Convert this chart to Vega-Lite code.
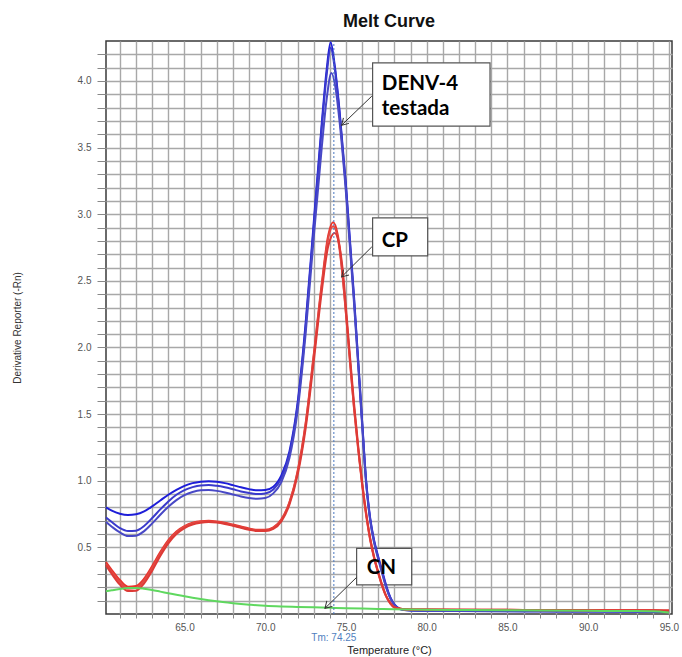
{
  "$schema": "https://vega.github.io/schema/vega-lite/v6.json",
  "autosize": {"type": "none"},
  "width": 566,
  "height": 573,
  "padding": {"left": 106, "top": 41, "right": 10, "bottom": 43},
  "background": "white",
  "title": {"text": "Melt Curve", "font": "Liberation Sans", "fontSize": 18, "fontWeight": "bold", "color": "#111", "frame": "group", "anchor": "middle", "offset": 7},
  "config": {
    "view": {"stroke": "#3a3a3a", "strokeWidth": 1.5},
    "axis": {"labelFont": "Liberation Sans", "titleFont": "Liberation Sans"}
  },
  "datasets": {
    "curves": [
      {"r": "B1", "T": 60.14, "v": 0.8}, {"r": "B1", "T": 60.5, "v": 0.775}, {"r": "B1", "T": 61.0, "v": 0.752}, {"r": "B1", "T": 61.5, "v": 0.742}, {"r": "B1", "T": 62.0, "v": 0.748}, {"r": "B1", "T": 62.5, "v": 0.77}, {"r": "B1", "T": 63.0, "v": 0.808}, {"r": "B1", "T": 63.5, "v": 0.852}, {"r": "B1", "T": 64.0, "v": 0.895}, {"r": "B1", "T": 64.5, "v": 0.932}, {"r": "B1", "T": 65.0, "v": 0.962}, {"r": "B1", "T": 65.5, "v": 0.982}, {"r": "B1", "T": 66.0, "v": 0.993}, {"r": "B1", "T": 66.5, "v": 0.997}, {"r": "B1", "T": 67.0, "v": 0.993}, {"r": "B1", "T": 67.5, "v": 0.982}, {"r": "B1", "T": 68.0, "v": 0.967}, {"r": "B1", "T": 68.5, "v": 0.951}, {"r": "B1", "T": 69.0, "v": 0.937}, {"r": "B1", "T": 69.5, "v": 0.928}, {"r": "B1", "T": 70.0, "v": 0.93}, {"r": "B1", "T": 70.5, "v": 0.955}, {"r": "B1", "T": 71.0, "v": 1.04}, {"r": "B1", "T": 71.5, "v": 1.22}, {"r": "B1", "T": 72.0, "v": 1.58}, {"r": "B1", "T": 72.5, "v": 2.18}, {"r": "B1", "T": 73.0, "v": 2.93}, {"r": "B1", "T": 73.5, "v": 3.68}, {"r": "B1", "T": 73.8, "v": 4.08}, {"r": "B1", "T": 74.05, "v": 4.29}, {"r": "B1", "T": 74.3, "v": 4.12}, {"r": "B1", "T": 74.6, "v": 3.78}, {"r": "B1", "T": 75.0, "v": 3.22}, {"r": "B1", "T": 75.5, "v": 2.38}, {"r": "B1", "T": 76.0, "v": 1.45}, {"r": "B1", "T": 76.25, "v": 1.0}, {"r": "B1", "T": 76.5, "v": 0.72}, {"r": "B1", "T": 76.75, "v": 0.55}, {"r": "B1", "T": 77.0, "v": 0.43}, {"r": "B1", "T": 77.25, "v": 0.32}, {"r": "B1", "T": 77.5, "v": 0.21}, {"r": "B1", "T": 77.75, "v": 0.125}, {"r": "B1", "T": 78.0, "v": 0.072}, {"r": "B1", "T": 78.25, "v": 0.045}, {"r": "B1", "T": 78.5, "v": 0.034}, {"r": "B1", "T": 79.0, "v": 0.028}, {"r": "B1", "T": 80.0, "v": 0.025}, {"r": "B1", "T": 82.0, "v": 0.024}, {"r": "B1", "T": 85.0, "v": 0.022}, {"r": "B1", "T": 87.0, "v": 0.021}, {"r": "B1", "T": 90.0, "v": 0.02}, {"r": "B1", "T": 95.0, "v": 0.018},

      {"r": "B2", "T": 60.14, "v": 0.725}, {"r": "B2", "T": 60.5, "v": 0.69}, {"r": "B2", "T": 61.0, "v": 0.645}, {"r": "B2", "T": 61.5, "v": 0.622}, {"r": "B2", "T": 62.0, "v": 0.625}, {"r": "B2", "T": 62.5, "v": 0.66}, {"r": "B2", "T": 63.0, "v": 0.72}, {"r": "B2", "T": 63.5, "v": 0.785}, {"r": "B2", "T": 64.0, "v": 0.845}, {"r": "B2", "T": 64.5, "v": 0.895}, {"r": "B2", "T": 65.0, "v": 0.93}, {"r": "B2", "T": 65.5, "v": 0.952}, {"r": "B2", "T": 66.0, "v": 0.965}, {"r": "B2", "T": 66.5, "v": 0.968}, {"r": "B2", "T": 67.0, "v": 0.962}, {"r": "B2", "T": 67.5, "v": 0.951}, {"r": "B2", "T": 68.0, "v": 0.936}, {"r": "B2", "T": 68.5, "v": 0.92}, {"r": "B2", "T": 69.0, "v": 0.908}, {"r": "B2", "T": 69.5, "v": 0.9}, {"r": "B2", "T": 70.0, "v": 0.905}, {"r": "B2", "T": 70.5, "v": 0.935}, {"r": "B2", "T": 71.0, "v": 1.02}, {"r": "B2", "T": 71.5, "v": 1.2}, {"r": "B2", "T": 72.0, "v": 1.56}, {"r": "B2", "T": 72.5, "v": 2.15}, {"r": "B2", "T": 73.0, "v": 2.9}, {"r": "B2", "T": 73.5, "v": 3.65}, {"r": "B2", "T": 73.8, "v": 4.04}, {"r": "B2", "T": 74.05, "v": 4.25}, {"r": "B2", "T": 74.3, "v": 4.1}, {"r": "B2", "T": 74.6, "v": 3.76}, {"r": "B2", "T": 75.0, "v": 3.2}, {"r": "B2", "T": 75.5, "v": 2.36}, {"r": "B2", "T": 76.0, "v": 1.44}, {"r": "B2", "T": 76.25, "v": 0.99}, {"r": "B2", "T": 76.5, "v": 0.71}, {"r": "B2", "T": 76.75, "v": 0.54}, {"r": "B2", "T": 77.0, "v": 0.42}, {"r": "B2", "T": 77.25, "v": 0.31}, {"r": "B2", "T": 77.5, "v": 0.2}, {"r": "B2", "T": 77.75, "v": 0.12}, {"r": "B2", "T": 78.0, "v": 0.07}, {"r": "B2", "T": 78.25, "v": 0.044}, {"r": "B2", "T": 78.5, "v": 0.033}, {"r": "B2", "T": 79.0, "v": 0.027}, {"r": "B2", "T": 80.0, "v": 0.024}, {"r": "B2", "T": 82.0, "v": 0.023}, {"r": "B2", "T": 85.0, "v": 0.021}, {"r": "B2", "T": 87.0, "v": 0.02}, {"r": "B2", "T": 90.0, "v": 0.019}, {"r": "B2", "T": 95.0, "v": 0.017},

      {"r": "B3", "T": 60.14, "v": 0.69}, {"r": "B3", "T": 60.5, "v": 0.655}, {"r": "B3", "T": 61.0, "v": 0.612}, {"r": "B3", "T": 61.5, "v": 0.585}, {"r": "B3", "T": 62.0, "v": 0.588}, {"r": "B3", "T": 62.5, "v": 0.622}, {"r": "B3", "T": 63.0, "v": 0.68}, {"r": "B3", "T": 63.5, "v": 0.745}, {"r": "B3", "T": 64.0, "v": 0.805}, {"r": "B3", "T": 64.5, "v": 0.855}, {"r": "B3", "T": 65.0, "v": 0.892}, {"r": "B3", "T": 65.5, "v": 0.915}, {"r": "B3", "T": 66.0, "v": 0.928}, {"r": "B3", "T": 66.5, "v": 0.93}, {"r": "B3", "T": 67.0, "v": 0.924}, {"r": "B3", "T": 67.5, "v": 0.912}, {"r": "B3", "T": 68.0, "v": 0.897}, {"r": "B3", "T": 68.5, "v": 0.882}, {"r": "B3", "T": 69.0, "v": 0.87}, {"r": "B3", "T": 69.5, "v": 0.864}, {"r": "B3", "T": 70.0, "v": 0.87}, {"r": "B3", "T": 70.5, "v": 0.905}, {"r": "B3", "T": 71.0, "v": 0.99}, {"r": "B3", "T": 71.5, "v": 1.17}, {"r": "B3", "T": 72.0, "v": 1.52}, {"r": "B3", "T": 72.5, "v": 2.1}, {"r": "B3", "T": 73.0, "v": 2.82}, {"r": "B3", "T": 73.5, "v": 3.5}, {"r": "B3", "T": 73.8, "v": 3.86}, {"r": "B3", "T": 74.1, "v": 4.06}, {"r": "B3", "T": 74.35, "v": 3.95}, {"r": "B3", "T": 74.6, "v": 3.7}, {"r": "B3", "T": 75.0, "v": 3.16}, {"r": "B3", "T": 75.5, "v": 2.33}, {"r": "B3", "T": 76.0, "v": 1.42}, {"r": "B3", "T": 76.25, "v": 0.98}, {"r": "B3", "T": 76.5, "v": 0.7}, {"r": "B3", "T": 76.75, "v": 0.53}, {"r": "B3", "T": 77.0, "v": 0.41}, {"r": "B3", "T": 77.25, "v": 0.3}, {"r": "B3", "T": 77.5, "v": 0.195}, {"r": "B3", "T": 77.75, "v": 0.115}, {"r": "B3", "T": 78.0, "v": 0.068}, {"r": "B3", "T": 78.25, "v": 0.043}, {"r": "B3", "T": 78.5, "v": 0.032}, {"r": "B3", "T": 79.0, "v": 0.026}, {"r": "B3", "T": 80.0, "v": 0.023}, {"r": "B3", "T": 82.0, "v": 0.022}, {"r": "B3", "T": 85.0, "v": 0.021}, {"r": "B3", "T": 87.0, "v": 0.02}, {"r": "B3", "T": 90.0, "v": 0.019}, {"r": "B3", "T": 95.0, "v": 0.017},

      {"r": "R1", "T": 60.14, "v": 0.39}, {"r": "R1", "T": 60.5, "v": 0.33}, {"r": "R1", "T": 61.0, "v": 0.255}, {"r": "R1", "T": 61.5, "v": 0.205}, {"r": "R1", "T": 62.0, "v": 0.21}, {"r": "R1", "T": 62.5, "v": 0.265}, {"r": "R1", "T": 63.0, "v": 0.36}, {"r": "R1", "T": 63.5, "v": 0.465}, {"r": "R1", "T": 64.0, "v": 0.555}, {"r": "R1", "T": 64.5, "v": 0.62}, {"r": "R1", "T": 65.0, "v": 0.66}, {"r": "R1", "T": 65.5, "v": 0.685}, {"r": "R1", "T": 66.0, "v": 0.697}, {"r": "R1", "T": 66.5, "v": 0.7}, {"r": "R1", "T": 67.0, "v": 0.695}, {"r": "R1", "T": 67.5, "v": 0.685}, {"r": "R1", "T": 68.0, "v": 0.671}, {"r": "R1", "T": 68.5, "v": 0.656}, {"r": "R1", "T": 69.0, "v": 0.642}, {"r": "R1", "T": 69.5, "v": 0.632}, {"r": "R1", "T": 70.0, "v": 0.632}, {"r": "R1", "T": 70.5, "v": 0.65}, {"r": "R1", "T": 71.0, "v": 0.71}, {"r": "R1", "T": 71.5, "v": 0.84}, {"r": "R1", "T": 72.0, "v": 1.07}, {"r": "R1", "T": 72.5, "v": 1.43}, {"r": "R1", "T": 73.0, "v": 1.94}, {"r": "R1", "T": 73.5, "v": 2.48}, {"r": "R1", "T": 73.9, "v": 2.84}, {"r": "R1", "T": 74.2, "v": 2.94}, {"r": "R1", "T": 74.5, "v": 2.84}, {"r": "R1", "T": 74.75, "v": 2.6}, {"r": "R1", "T": 75.0, "v": 2.26}, {"r": "R1", "T": 75.25, "v": 1.9}, {"r": "R1", "T": 75.5, "v": 1.55}, {"r": "R1", "T": 75.75, "v": 1.25}, {"r": "R1", "T": 76.0, "v": 0.98}, {"r": "R1", "T": 76.25, "v": 0.75}, {"r": "R1", "T": 76.5, "v": 0.56}, {"r": "R1", "T": 76.75, "v": 0.42}, {"r": "R1", "T": 77.0, "v": 0.31}, {"r": "R1", "T": 77.25, "v": 0.21}, {"r": "R1", "T": 77.5, "v": 0.13}, {"r": "R1", "T": 77.75, "v": 0.08}, {"r": "R1", "T": 78.0, "v": 0.05}, {"r": "R1", "T": 78.5, "v": 0.037}, {"r": "R1", "T": 79.0, "v": 0.034}, {"r": "R1", "T": 80.0, "v": 0.033}, {"r": "R1", "T": 82.0, "v": 0.032}, {"r": "R1", "T": 85.0, "v": 0.031}, {"r": "R1", "T": 87.0, "v": 0.03}, {"r": "R1", "T": 90.0, "v": 0.029}, {"r": "R1", "T": 94.0, "v": 0.028}, {"r": "R1", "T": 95.0, "v": 0.026},

      {"r": "R2", "T": 60.14, "v": 0.375}, {"r": "R2", "T": 60.5, "v": 0.315}, {"r": "R2", "T": 61.0, "v": 0.24}, {"r": "R2", "T": 61.5, "v": 0.19}, {"r": "R2", "T": 62.0, "v": 0.195}, {"r": "R2", "T": 62.5, "v": 0.25}, {"r": "R2", "T": 63.0, "v": 0.345}, {"r": "R2", "T": 63.5, "v": 0.452}, {"r": "R2", "T": 64.0, "v": 0.545}, {"r": "R2", "T": 64.5, "v": 0.612}, {"r": "R2", "T": 65.0, "v": 0.655}, {"r": "R2", "T": 65.5, "v": 0.68}, {"r": "R2", "T": 66.0, "v": 0.692}, {"r": "R2", "T": 66.5, "v": 0.695}, {"r": "R2", "T": 67.0, "v": 0.69}, {"r": "R2", "T": 67.5, "v": 0.68}, {"r": "R2", "T": 68.0, "v": 0.666}, {"r": "R2", "T": 68.5, "v": 0.651}, {"r": "R2", "T": 69.0, "v": 0.637}, {"r": "R2", "T": 69.5, "v": 0.627}, {"r": "R2", "T": 70.0, "v": 0.627}, {"r": "R2", "T": 70.5, "v": 0.645}, {"r": "R2", "T": 71.0, "v": 0.705}, {"r": "R2", "T": 71.5, "v": 0.835}, {"r": "R2", "T": 72.0, "v": 1.06}, {"r": "R2", "T": 72.5, "v": 1.42}, {"r": "R2", "T": 73.0, "v": 1.93}, {"r": "R2", "T": 73.5, "v": 2.46}, {"r": "R2", "T": 73.9, "v": 2.82}, {"r": "R2", "T": 74.2, "v": 2.91}, {"r": "R2", "T": 74.5, "v": 2.82}, {"r": "R2", "T": 74.75, "v": 2.58}, {"r": "R2", "T": 75.0, "v": 2.25}, {"r": "R2", "T": 75.25, "v": 1.89}, {"r": "R2", "T": 75.5, "v": 1.54}, {"r": "R2", "T": 75.75, "v": 1.24}, {"r": "R2", "T": 76.0, "v": 0.97}, {"r": "R2", "T": 76.25, "v": 0.74}, {"r": "R2", "T": 76.5, "v": 0.555}, {"r": "R2", "T": 76.75, "v": 0.415}, {"r": "R2", "T": 77.0, "v": 0.305}, {"r": "R2", "T": 77.25, "v": 0.205}, {"r": "R2", "T": 77.5, "v": 0.128}, {"r": "R2", "T": 77.75, "v": 0.078}, {"r": "R2", "T": 78.0, "v": 0.049}, {"r": "R2", "T": 78.5, "v": 0.036}, {"r": "R2", "T": 79.0, "v": 0.033}, {"r": "R2", "T": 80.0, "v": 0.032}, {"r": "R2", "T": 82.0, "v": 0.031}, {"r": "R2", "T": 85.0, "v": 0.03}, {"r": "R2", "T": 87.0, "v": 0.029}, {"r": "R2", "T": 90.0, "v": 0.028}, {"r": "R2", "T": 94.0, "v": 0.027}, {"r": "R2", "T": 95.0, "v": 0.025},

      {"r": "R3", "T": 60.14, "v": 0.365}, {"r": "R3", "T": 60.5, "v": 0.3}, {"r": "R3", "T": 61.0, "v": 0.22}, {"r": "R3", "T": 61.5, "v": 0.172}, {"r": "R3", "T": 62.0, "v": 0.175}, {"r": "R3", "T": 62.5, "v": 0.23}, {"r": "R3", "T": 63.0, "v": 0.325}, {"r": "R3", "T": 63.5, "v": 0.435}, {"r": "R3", "T": 64.0, "v": 0.53}, {"r": "R3", "T": 64.5, "v": 0.6}, {"r": "R3", "T": 65.0, "v": 0.645}, {"r": "R3", "T": 65.5, "v": 0.672}, {"r": "R3", "T": 66.0, "v": 0.685}, {"r": "R3", "T": 66.5, "v": 0.69}, {"r": "R3", "T": 67.0, "v": 0.686}, {"r": "R3", "T": 67.5, "v": 0.676}, {"r": "R3", "T": 68.0, "v": 0.662}, {"r": "R3", "T": 68.5, "v": 0.647}, {"r": "R3", "T": 69.0, "v": 0.633}, {"r": "R3", "T": 69.5, "v": 0.623}, {"r": "R3", "T": 70.0, "v": 0.622}, {"r": "R3", "T": 70.5, "v": 0.638}, {"r": "R3", "T": 71.0, "v": 0.695}, {"r": "R3", "T": 71.5, "v": 0.82}, {"r": "R3", "T": 72.0, "v": 1.04}, {"r": "R3", "T": 72.5, "v": 1.39}, {"r": "R3", "T": 73.0, "v": 1.89}, {"r": "R3", "T": 73.5, "v": 2.42}, {"r": "R3", "T": 73.9, "v": 2.76}, {"r": "R3", "T": 74.3, "v": 2.86}, {"r": "R3", "T": 74.6, "v": 2.76}, {"r": "R3", "T": 74.85, "v": 2.52}, {"r": "R3", "T": 75.0, "v": 2.3}, {"r": "R3", "T": 75.25, "v": 1.93}, {"r": "R3", "T": 75.5, "v": 1.58}, {"r": "R3", "T": 75.75, "v": 1.27}, {"r": "R3", "T": 76.0, "v": 0.99}, {"r": "R3", "T": 76.25, "v": 0.76}, {"r": "R3", "T": 76.5, "v": 0.57}, {"r": "R3", "T": 76.75, "v": 0.425}, {"r": "R3", "T": 77.0, "v": 0.315}, {"r": "R3", "T": 77.25, "v": 0.215}, {"r": "R3", "T": 77.5, "v": 0.134}, {"r": "R3", "T": 77.75, "v": 0.082}, {"r": "R3", "T": 78.0, "v": 0.051}, {"r": "R3", "T": 78.5, "v": 0.037}, {"r": "R3", "T": 79.0, "v": 0.034}, {"r": "R3", "T": 80.0, "v": 0.033}, {"r": "R3", "T": 82.0, "v": 0.032}, {"r": "R3", "T": 85.0, "v": 0.031}, {"r": "R3", "T": 87.0, "v": 0.03}, {"r": "R3", "T": 90.0, "v": 0.029}, {"r": "R3", "T": 94.0, "v": 0.028}, {"r": "R3", "T": 95.0, "v": 0.026},

      {"r": "G", "T": 60.14, "v": 0.17}, {"r": "G", "T": 60.5, "v": 0.178}, {"r": "G", "T": 61.0, "v": 0.188}, {"r": "G", "T": 61.5, "v": 0.195}, {"r": "G", "T": 62.0, "v": 0.196}, {"r": "G", "T": 62.5, "v": 0.19}, {"r": "G", "T": 63.0, "v": 0.18}, {"r": "G", "T": 63.5, "v": 0.168}, {"r": "G", "T": 64.0, "v": 0.156}, {"r": "G", "T": 64.5, "v": 0.144}, {"r": "G", "T": 65.0, "v": 0.133}, {"r": "G", "T": 65.5, "v": 0.122}, {"r": "G", "T": 66.0, "v": 0.112}, {"r": "G", "T": 66.5, "v": 0.103}, {"r": "G", "T": 67.0, "v": 0.095}, {"r": "G", "T": 67.5, "v": 0.088}, {"r": "G", "T": 68.0, "v": 0.081}, {"r": "G", "T": 68.5, "v": 0.075}, {"r": "G", "T": 69.0, "v": 0.07}, {"r": "G", "T": 69.5, "v": 0.065}, {"r": "G", "T": 70.0, "v": 0.061}, {"r": "G", "T": 71.0, "v": 0.056}, {"r": "G", "T": 72.0, "v": 0.053}, {"r": "G", "T": 73.0, "v": 0.05}, {"r": "G", "T": 74.0, "v": 0.047}, {"r": "G", "T": 75.0, "v": 0.044}, {"r": "G", "T": 76.0, "v": 0.041}, {"r": "G", "T": 77.0, "v": 0.038}, {"r": "G", "T": 78.0, "v": 0.035}, {"r": "G", "T": 80.0, "v": 0.032}, {"r": "G", "T": 82.5, "v": 0.03}, {"r": "G", "T": 85.0, "v": 0.028}, {"r": "G", "T": 87.5, "v": 0.026}, {"r": "G", "T": 90.0, "v": 0.024}, {"r": "G", "T": 92.5, "v": 0.022}, {"r": "G", "T": 94.0, "v": 0.02}, {"r": "G", "T": 95.0, "v": 0.012}
    ],
    "boxes": [
      {"T": 76.65, "T2": 83.92, "v": 4.136, "v2": 3.661},
      {"T": 76.65, "T2": 80.06, "v": 2.973, "v2": 2.688},
      {"T": 75.66, "T2": 79.07, "v": 0.493, "v2": 0.218}
    ],
    "arrows": [
      {"T": 74.73, "v": 3.668, "T2": 76.6, "v2": 3.886},
      {"T": 74.73, "v": 2.53, "T2": 76.6, "v2": 2.755},
      {"T": 73.7, "v": 0.043, "T2": 75.66, "v2": 0.275}
    ],
    "notes": [
      {"T": 77.22, "v": 3.931, "label": "DENV-4"},
      {"T": 77.22, "v": 3.743, "label": "testada"},
      {"T": 77.22, "v": 2.755, "label": "CP"},
      {"T": 76.28, "v": 0.3, "label": "CN"}
    ]
  },
  "encoding": {
    "x": {
      "field": "T", "type": "quantitative",
      "scale": {"domain": [60.14, 95.19], "nice": false, "zero": false},
      "axis": {
        "title": "Temperature (°C)",
        "values": [61, 62, 63, 64, 65, 66, 67, 68, 69, 70, 71, 72, 73, 74, 75, 76, 77, 78, 79, 80, 81, 82, 83, 84, 85, 86, 87, 88, 89, 90, 91, 92, 93, 94, 95],
        "labelExpr": "datum.value % 5 === 0 ? format(datum.value, '.1f') : ''",
        "labelOverlap": false, "labelFlush": false,
        "domain": false,
        "grid": true, "gridColor": "#a8a8a8", "gridWidth": 1.4, "gridOpacity": 1,
        "tickColor": "#888", "tickSize": 4,
        "labelPadding": 4, "labelFontSize": 10, "labelColor": "#555",
        "titleFontSize": 11, "titleFontWeight": "normal", "titleColor": "#222", "titlePadding": 12
      }
    },
    "y": {
      "field": "v", "type": "quantitative",
      "scale": {"domain": [0, 4.3], "nice": false, "zero": false},
      "axis": {
        "title": "Derivative Reporter (-Rn)",
        "values": [0.1, 0.2, 0.3, 0.4, 0.5, 0.6, 0.7, 0.8, 0.9, 1.0, 1.1, 1.2, 1.3, 1.4, 1.5, 1.6, 1.7, 1.8, 1.9, 2.0, 2.1, 2.2, 2.3, 2.4, 2.5, 2.6, 2.7, 2.8, 2.9, 3.0, 3.1, 3.2, 3.3, 3.4, 3.5, 3.6, 3.7, 3.8, 3.9, 4.0, 4.1, 4.2],
        "labelExpr": "abs(datum.value * 2 - round(datum.value * 2)) < 0.000001 ? format(datum.value, '.1f') : ''",
        "labelOverlap": false, "labelFlush": false,
        "domain": false,
        "grid": true, "gridColor": "#a8a8a8", "gridWidth": 1.4, "gridOpacity": 1,
        "tickColor": "#888", "tickSize": 9,
        "labelPadding": 6, "labelFontSize": 10, "labelColor": "#555",
        "titleFontSize": 10, "titleFontWeight": "normal", "titleColor": "#333", "titlePadding": 55
      }
    }
  },
  "layer": [
    {
      "data": {"name": "boxes"},
      "mark": {"type": "rect", "fill": "white", "stroke": "#555", "strokeWidth": 1.2},
      "encoding": {
        "x2": {"field": "T2"},
        "y2": {"field": "v2"}
      }
    },
    {
      "data": {"name": "curves"},
      "mark": {"type": "line", "interpolate": "monotone", "strokeWidth": 2},
      "encoding": {
        "detail": {"field": "r"},
        "color": {
          "field": "r", "type": "nominal", "legend": null,
          "scale": {"domain": ["B1", "B2", "B3", "R1", "R2", "R3", "G"], "range": ["#1e1ed8", "#3a3acc", "#4848c6", "#e8342c", "#e24a44", "#dd3a36", "#5fd85f"]}
        }
      }
    },
    {
      "data": {"values": [{"T": 74.25, "v": 0, "v2": 4.3}]},
      "mark": {"type": "rule", "color": "#4a78c0", "strokeWidth": 1, "strokeDash": [2, 2]},
      "encoding": {
        "y2": {"field": "v2"}
      }
    },
    {
      "data": {"values": [{"T": 74.25, "v": -0.18, "label": "Tm: 74.25"}]},
      "mark": {"type": "text", "color": "#4f7fc0", "fontSize": 10, "font": "Liberation Sans", "align": "center", "baseline": "middle"},
      "encoding": {
        "text": {"field": "label"}
      }
    },
    {
      "data": {"name": "arrows"},
      "mark": {"type": "rule", "color": "#333", "strokeWidth": 1},
      "encoding": {
        "x2": {"field": "T2"},
        "y2": {"field": "v2"}
      }
    },
    {
      "data": {"name": "arrows"},
      "mark": {"type": "point", "shape": "M -1 -0.6 L 0 0 L -1 0.6", "filled": false, "stroke": "#333", "strokeWidth": 1, "size": 169, "angle": 135, "opacity": 1}
    },
    {
      "data": {"name": "notes"},
      "mark": {"type": "text", "font": "Lato", "fontWeight": "bold", "fontSize": 20.5, "color": "#000", "align": "left", "baseline": "alphabetic"},
      "encoding": {
        "text": {"field": "label"}
      }
    }
  ]
}
